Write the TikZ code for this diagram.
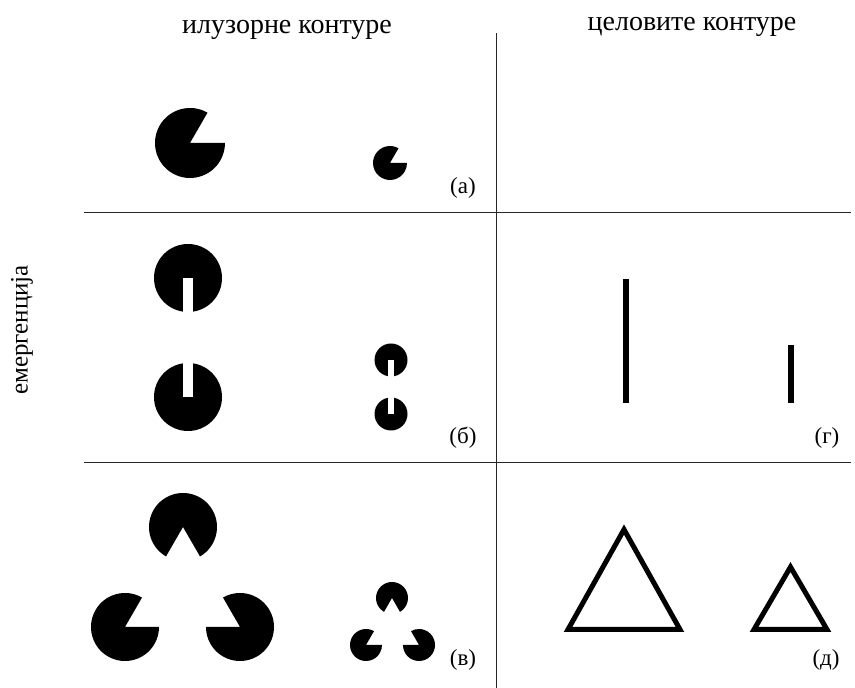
\documentclass[tikz,border=0pt]{standalone}
\usepackage{fontspec}
\setmainfont{Liberation Serif}
\newfontfamily\tms{Liberation Serif}
\begin{document}
\begin{tikzpicture}[x=1bp,y=1bp,
  head/.style={font=\tms\fontsize{28bp}{30bp}\selectfont, inner sep=0pt, anchor=base},
  tag/.style={font=\tms\fontsize{23bp}{25bp}\selectfont, inner sep=0pt},
  rule/.style={line width=0.9bp, black!85},
  bar/.style={line width=6bp},
  tri/.style={line width=5bp, line join=miter}]
\useasboundingbox (0,0) rectangle (855,688);
% pacman: center, radius, mouth start, mouth end
\newcommand{\pacm}[5]{\fill (#1,#2) -- ++(#5:#3) arc[start angle=#5, end angle={#4+360}, radius=#3] -- cycle;}
\newcommand{\slitdown}[4]{\fill (#1,#2) circle[radius=#3]; \fill[white] ({#1-#4},#2) rectangle ({#1+#4},{#2-#3-1});}
\newcommand{\slitup}[4]{\fill (#1,#2) circle[radius=#3]; \fill[white] ({#1-#4},#2) rectangle ({#1+#4},{#2+#3+1});}
% headers
\node[head] (h1) at (287,654) {илузорне контуре};
\node[head] (h2) at (692,657) {целовите контуре};
\node[font=\tms\fontsize{25bp}{28bp}\selectfont, rotate=90, inner sep=0pt] (em) at (22,358) {емергенција};
% grid lines
\draw[rule] (84,476) -- (851,476);
\draw[rule] (84,226) -- (851,226);
\draw[rule] (496,655) -- (496,0);
% row a
\pacm{190}{545}{35}{0}{60}
\pacm{390}{525}{17}{0}{60}
\node[tag] (la) at (463,500) {(а)};
% row b
\slitdown{188}{410}{34}{5}
\slitup{188}{291}{34}{5}
\slitdown{391}{328}{16.5}{2.8}
\slitup{391}{274}{16.5}{2.8}
\node[tag] (lb) at (463,250) {(б)};
\draw[bar] (625.5,409) -- (625.5,285);
\draw[bar] (790.5,343) -- (790.5,285);
\node[tag] (lg) at (827,250) {(г)};
% row v
\pacm{183}{161}{34}{240}{300}
\pacm{125}{61}{34}{0}{60}
\pacm{240}{61}{34}{120}{180}
\pacm{392}{90}{16}{240}{300}
\pacm{366}{43}{16}{0}{60}
\pacm{419}{43}{16}{120}{180}
\node[tag] (lv) at (463,28) {(в)};
\draw[tri] (568,58.5) -- (680,58.5) -- (624,158.5) -- cycle;
\draw[tri] (754,58.5) -- (827,58.5) -- (790.5,121) -- cycle;
\node[tag] (ld) at (826,28) {(д)};
\end{tikzpicture}
\end{document}
